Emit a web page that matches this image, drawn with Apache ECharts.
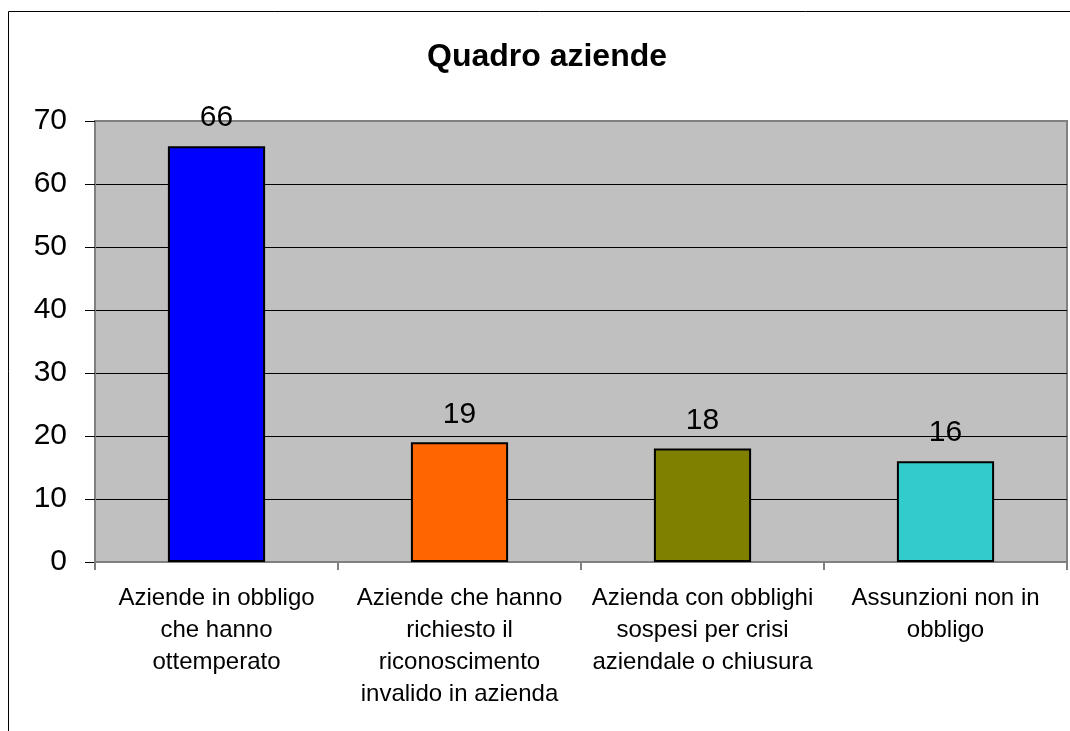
<!DOCTYPE html>
<html>
<head>
<meta charset="utf-8">
<title>Quadro aziende</title>
<script src="https://cdn.jsdelivr.net/npm/echarts@6/dist/echarts.min.js"></script>
<style>
  html, body { margin: 0; padding: 0; background: #fff; }
  #chart { width: 1070px; height: 731px; }
</style>
</head>
<body>
<div id="chart"></div>
<script>
// dati
const categories = [
  "Aziende in obbligo\nche hanno\nottemperato",
  "Aziende che hanno\nrichiesto il\nriconoscimento\ninvalido in azienda",
  "Azienda con obblighi\nsospesi per crisi\naziendale o chiusura",
  "Assunzioni non in\nobbligo",
];
const values = [66, 19, 18, 16];
const barColors = ["#0000FF", "#FF6600", "#808000", "#33CCCC"];
const yTicks = { min: 0, max: 70, step: 10 };

const font = "'Liberation Sans', Arial, sans-serif";

const myChart = echarts.init(document.getElementById("chart"), null, { renderer: "canvas" });

// linee di griglia nere, quella in cima coincide col bordo grigio
const gridColors = [];
for (let v = yTicks.min; v <= yTicks.max; v += yTicks.step) {
  gridColors.push(v === yTicks.max ? "#808080" : "#000");
}

const option = {
  backgroundColor: "#fff",
  animation: false,
  title: {
    text: "Quadro aziende",
    left: 427,
    top: 41,
    padding: 0,
    textStyle: { fontFamily: font, fontSize: 32, fontWeight: "bold", color: "#000" },
  },
  graphic: [
    {
      type: "rect",
      shape: { x: 8.5, y: 11.5, width: 1200, height: 900 },
      style: { fill: "none", stroke: "#000", lineWidth: 1 },
      silent: true,
      z: -1,
    },
  ],
  grid: {
    left: 95,
    right: 3,
    top: 121,
    bottom: 169,
    show: true,
    backgroundColor: "#C0C0C0",
    borderColor: "#808080",
    borderWidth: 2,
  },
  xAxis: {
    type: "category",
    data: categories,
    axisLine: { lineStyle: { color: "#808080", width: 2 } },
    axisTick: { show: true, length: 8, lineStyle: { color: "#808080", width: 2 } },
    axisLabel: {
      interval: 0,
      margin: 20,
      fontFamily: font,
      fontSize: 24,
      lineHeight: 32,
      color: "#000",
      align: "center",
    },
  },
  yAxis: {
    type: "value",
    min: yTicks.min,
    max: yTicks.max,
    interval: yTicks.step,
    axisLine: { show: true, lineStyle: { color: "#808080", width: 2 } },
    axisTick: { show: true, length: 10, lineStyle: { color: "#000", width: 1 } },
    axisLabel: { margin: 28, fontFamily: font, fontSize: 30, color: "#000" },
    splitLine: { show: true, lineStyle: { color: gridColors, width: 1 } },
  },
  series: [
    {
      type: "bar",
      barWidth: "40%",
      data: values.map((v, i) => ({ value: v, itemStyle: { color: barColors[i] } })),
      itemStyle: { borderColor: "#000", borderWidth: 2 },
      label: {
        show: true,
        position: "top",
        distance: 13,
        fontFamily: font,
        fontSize: 30,
        color: "#000",
      },
    },
  ],
};

myChart.setOption(option);

window.onresize = function () {
  myChart.resize();
};
</script>
</body>
</html>
